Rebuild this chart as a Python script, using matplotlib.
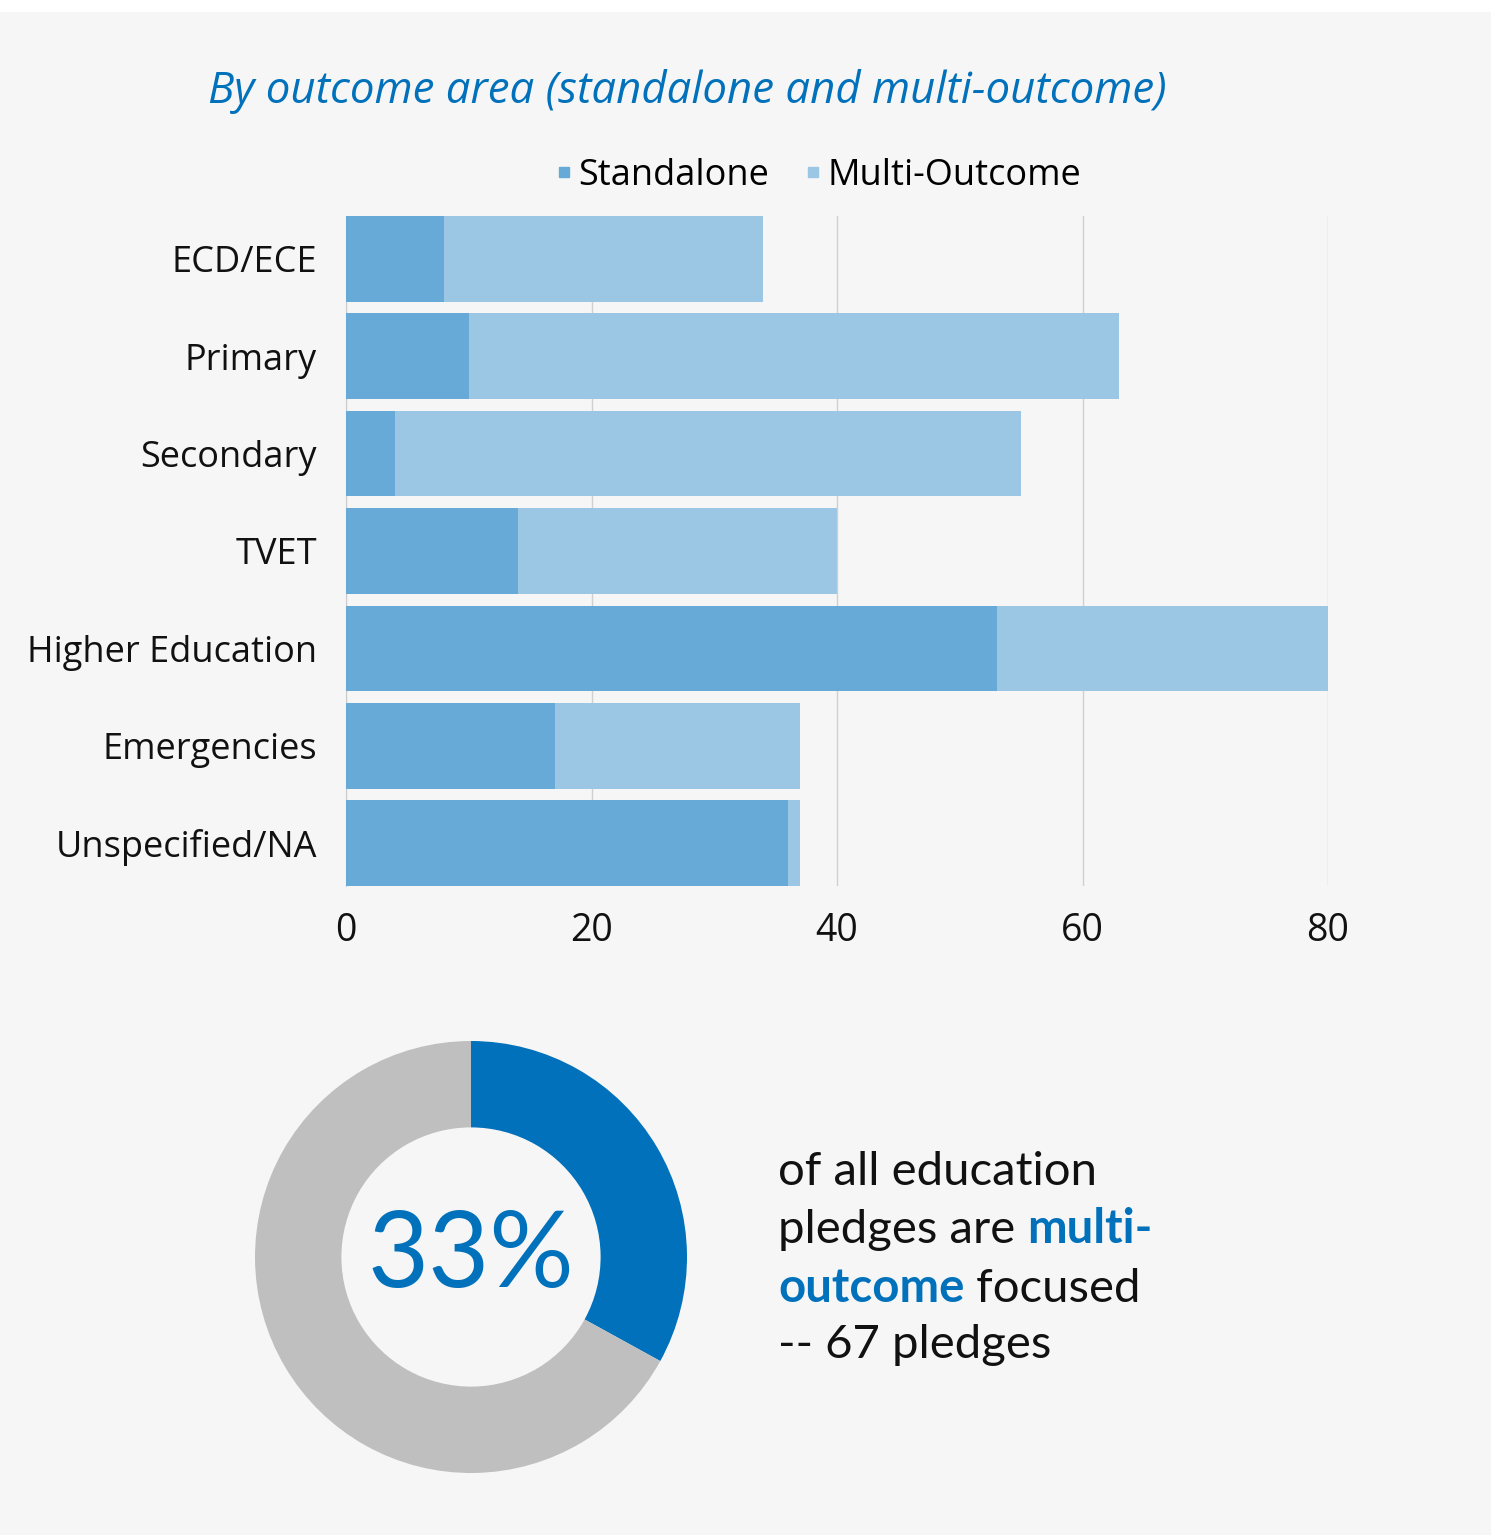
import numpy as np
import matplotlib.pyplot as plt
from matplotlib.lines import Line2D

# data
categories = ["ECD/ECE", "Primary", "Secondary", "TVET", "Higher Education", "Emergencies", "Unspecified/NA"]
standalone = [8, 10, 4, 14, 53, 17, 36]
multi_outcome = [26, 53, 51, 26, 27, 20, 1]
x_ticks = [0, 20, 40, 60, 80]
share_multi = 33
share_rest = 100 - share_multi
multi_pledges = 67

bg = "#f6f6f6"
c_stand = "#67aad7"
c_multi = "#9bc7e5"
c_blue = "#0071ba"
c_grey = "#bfbfbf"

W, H = 1491, 1535
fig = plt.figure(figsize=(W / 100, H / 100), dpi=100)
fig.patch.set_facecolor("white")
# grey panel under a thin white top band
fig.patches.append(plt.Rectangle((0, 0), 1, 1 - 12 / H, transform=fig.transFigure,
                                 facecolor=bg, edgecolor="none", zorder=-10))

label_font = "Open Sans"
lab_fs = 26

# ---- title
fig.text(687 / W, 1 - 92 / H, "By outcome area (standalone and multi-outcome)",
         ha="center", va="center", fontsize=31.5, style="italic", color=c_blue, family="Open Sans")

# ---- stacked bars
ax = fig.add_axes([346 / W, 1 - 886 / H, (1328 - 346) / W, (886 - 216) / H])
ax.set_facecolor(bg)
y = np.arange(len(categories))
ax.barh(y, standalone, height=0.88, color=c_stand, label="Standalone", zorder=3)
ax.barh(y, multi_outcome, left=standalone, height=0.88, color=c_multi, label="Multi-Outcome", zorder=3)
ax.set_yticks(y)
ax.set_yticklabels(categories, fontsize=lab_fs, family=label_font, color="#111111")
ax.set_ylim(len(categories) - 1 + 0.44, -0.44)
ax.set_xlim(0, 80)
ax.set_xticks(x_ticks)
ax.set_xticklabels([str(t) for t in x_ticks], fontsize=27, family=label_font, color="#111111")
ax.tick_params(axis="both", length=0)
ax.tick_params(axis="y", pad=21)
ax.tick_params(axis="x", pad=19)
ax.grid(axis="x", color="#d0d0d0", linewidth=1, zorder=0)
for s in ["top", "right", "bottom"]:
    ax.spines[s].set_visible(False)
ax.spines["left"].set_color("#cccccc")

handles = [Line2D([], [], marker="s", linestyle="none", markersize=7, color=c_stand),
           Line2D([], [], marker="s", linestyle="none", markersize=7, color=c_multi)]
fig.legend(handles, ["Standalone", "Multi-Outcome"], loc="center", ncol=2,
           bbox_to_anchor=(819 / W, 1 - 176 / H), frameon=False, handlelength=0.4,
           handletextpad=0.2, columnspacing=1.0, prop={"family": label_font, "size": lab_fs})

# ---- donut
R = 216
axd = fig.add_axes([(471 - R) / W, 1 - (1257 + R) / H, 2 * R / W, 2 * R / H])
axd.pie([share_multi, share_rest], colors=[c_blue, c_grey], startangle=90, counterclock=False,
        wedgeprops=dict(width=0.40, edgecolor="none"))
axd.set_xlim(-1, 1)
axd.set_ylim(-1, 1)
axd.set_aspect("equal")
axd.axis("off")
axd.text(0, 0, f"{share_multi}%", ha="center", va="center", fontsize=76,
         color=c_blue, family="Lato")

# ---- side text
tx = 778 / W
fs = 34
lines_y = [1172, 1230, 1288, 1345]
fig.text(tx, 1 - lines_y[0] / H, "of all education", fontsize=fs, va="center", family="Lato", color="#111111")
t = fig.text(tx, 1 - lines_y[1] / H, "pledges are ", fontsize=fs, va="center", family="Lato", color="#111111")
ax_note = fig.add_axes([0, 0, 1, 1], facecolor="none")
ax_note.axis("off")
ax_note.annotate("multi-", xy=(1, 0), xycoords=t, va="bottom", ha="left", fontsize=fs,
                 family="Lato", fontweight="bold", color=c_blue)
t2 = fig.text(tx, 1 - lines_y[2] / H, "outcome", fontsize=fs, va="center", family="Lato",
              fontweight="bold", color=c_blue)
ax_note.annotate(" focused", xy=(1, 0), xycoords=t2, va="bottom", ha="left", fontsize=fs,
                 family="Lato", color="#111111")
fig.text(tx, 1 - lines_y[3] / H, f"-- {multi_pledges} pledges", fontsize=fs, va="center",
         family="Lato", color="#111111")

fig.savefig("out.png", dpi=100, facecolor=fig.get_facecolor())
